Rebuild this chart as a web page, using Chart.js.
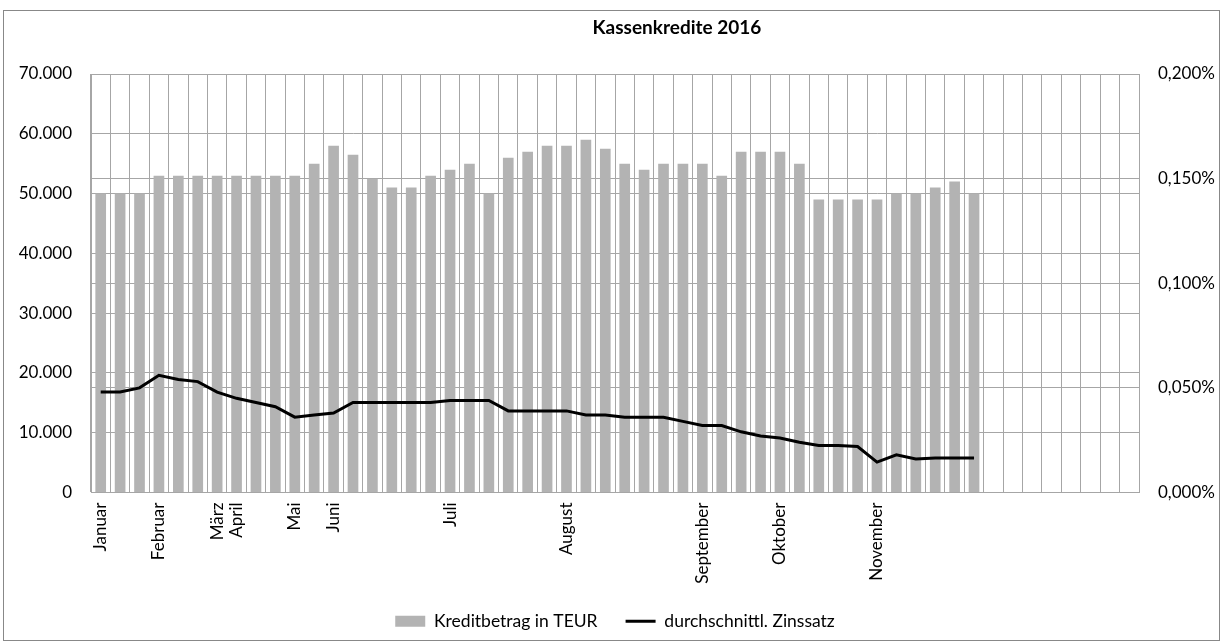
<!DOCTYPE html>
<html>
<head>
<meta charset="utf-8">
<script src="https://cdn.jsdelivr.net/npm/chart.js@4.4.0/dist/chart.umd.min.js"></script>
<style>
  html, body { margin: 0; padding: 0; background: #fff; }
  #wrap { width: 1223px; height: 644px; }
</style>
</head>
<body>
<div id="wrap"><canvas id="chart" width="1223" height="644"></canvas></div>
<script>
// Kategorien (54 Buchungstage, nur Monatsanfang beschriftet)
const labels = [
  "Januar", "", "", "Februar", "", "", "März", "April", "", "",
  "Mai", "", "Juni", "", "", "", "", "", "Juli", "",
  "", "", "", "", "August", "", "", "", "", "",
  "", "September", "", "", "", "Oktober", "", "", "", "",
  "November", "", "", "", "", "", "", "", "", "",
  "", "", "", ""
];

// Kreditbetrag in TEUR
const kreditbetrag = [
  50000, 50000, 50000, 53000, 53000, 53000, 53000, 53000, 53000, 53000,
  53000, 55000, 58000, 56500, 52500, 51000, 51000, 53000, 54000, 55000,
  50000, 56000, 57000, 58000, 58000, 59000, 57500, 55000, 54000, 55000,
  55000, 55000, 53000, 57000, 57000, 57000, 55000, 49000, 49000, 49000,
  49000, 50000, 50000, 51000, 52000, 50000
];

// durchschnittl. Zinssatz in %
const zinssatz = [
  0.048, 0.048, 0.050, 0.056, 0.054, 0.053, 0.048, 0.045, 0.043, 0.041,
  0.036, 0.037, 0.038, 0.043, 0.043, 0.043, 0.043, 0.043, 0.044, 0.044,
  0.044, 0.039, 0.039, 0.039, 0.039, 0.037, 0.037, 0.036, 0.036, 0.036,
  0.034, 0.032, 0.032, 0.029, 0.027, 0.026, 0.024, 0.0225, 0.0225, 0.022,
  0.0145, 0.018, 0.016, 0.0165, 0.0165, 0.0165
];

const FONT = "Lato, 'Open Sans', sans-serif";
const GRID = "#a6a6a6";
const BAR = "#b3b3b3";

function tausender(v) {
  return String(Math.round(v)).replace(/\B(?=(\d{3})+(?!\d))/g, ".");
}

// Rahmen und Titel wie in Excel
const rahmenTitel = {
  id: "rahmenTitel",
  afterDraw(chart) {
    const c = chart.ctx;
    c.save();
    c.strokeStyle = "#888";
    c.lineWidth = 1;
    c.strokeRect(3.5, 10.5, 1216, 630);
    c.fillStyle = "#000";
    c.font = "bold 19px " + FONT;
    c.textAlign = "center";
    c.textBaseline = "middle";
    c.fillText("Kassenkredite 2016", 677, 28);
    c.restore();
  }
};

Chart.defaults.font.family = FONT;
Chart.defaults.font.size = 17;
Chart.defaults.color = "#000";

new Chart(document.getElementById("chart"), {
  type: "bar",
  data: {
    labels: labels,
    datasets: [
      {
        type: "line",
        label: "durchschnittl. Zinssatz",
        data: zinssatz,
        yAxisID: "y2",
        borderColor: "#000",
        backgroundColor: "#000",
        borderWidth: 3,
        pointRadius: 0,
        tension: 0,
        order: 0
      },
      {
        type: "bar",
        label: "Kreditbetrag in TEUR",
        data: kreditbetrag,
        yAxisID: "y",
        backgroundColor: BAR,
        barPercentage: 0.55,
        categoryPercentage: 1.0,
        order: 1
      }
    ]
  },
  options: {
    responsive: false,
    animation: false,
    layout: { padding: { top: 74, bottom: 4, left: 0, right: 0 } },
    plugins: {
      title: { display: false },
      tooltip: { enabled: false },
      legend: {
        position: "bottom",
        fullSize: false,
        labels: {
          usePointStyle: true,
          pointStyleWidth: 30,
          boxHeight: 11,
          padding: 28,
          font: { size: 17.5 },
          generateLabels: () => [
            { text: "Kreditbetrag in TEUR", fillStyle: BAR, strokeStyle: BAR, lineWidth: 0, pointStyle: "rect", datasetIndex: 1 },
            { text: "durchschnittl. Zinssatz", fillStyle: "#000", strokeStyle: "#000", lineWidth: 3, pointStyle: "line", datasetIndex: 0 }
          ]
        }
      }
    },
    scales: {
      x: {
        grid: { color: GRID, offset: true, drawTicks: false },
        border: { color: GRID },
        ticks: { autoSkip: false, minRotation: 90, maxRotation: 90, padding: 10, font: { size: 17 } },
        afterFit: s => { s.height = 92; }
      },
      y: {
        position: "left",
        min: 0,
        max: 70000,
        grid: { color: GRID, drawTicks: false },
        border: { color: GRID },
        ticks: { stepSize: 10000, padding: 19, callback: v => tausender(v) },
        afterFit: s => { s.width = 91; }
      },
      y2: {
        position: "right",
        min: 0,
        max: 0.2,
        grid: { color: GRID, drawTicks: false },
        border: { color: GRID },
        ticks: { stepSize: 0.05, padding: 19, callback: v => v.toFixed(3).replace(".", ",") + "%" },
        afterFit: s => { s.width = 84; }
      }
    }
  },
  plugins: [rahmenTitel]
});
</script>
</body>
</html>
